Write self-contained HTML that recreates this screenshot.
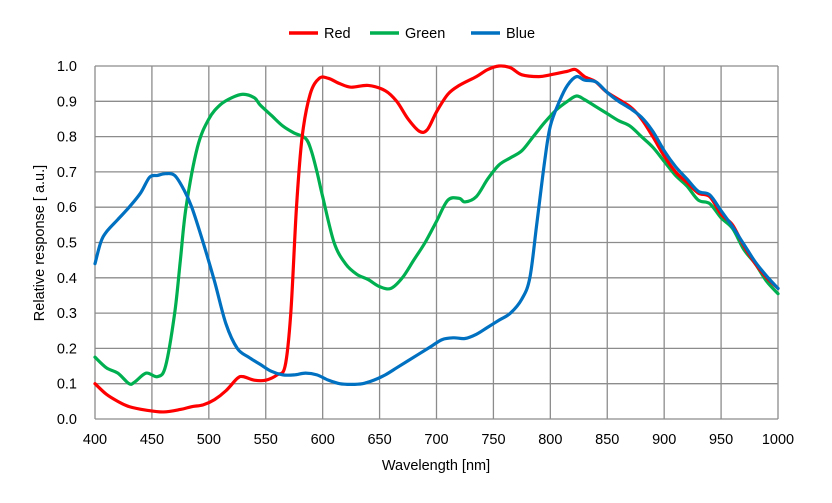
<!DOCTYPE html>
<html><head><meta charset="utf-8"><style>
html,body{margin:0;padding:0;background:#fff}
svg{display:block;font-family:"Liberation Sans",Arial,sans-serif}
</style></head><body>
<svg id="s" width="832" height="503" viewBox="0 0 832 503">
<rect width="832" height="503" fill="#fff"/>
<g id="grid" stroke="#8c8c8c" stroke-width="1.3"></g>
<g id="labels" font-size="14.5" fill="#000"></g>
<g id="curves" fill="none" stroke-width="3.2" stroke-linejoin="round" stroke-linecap="round"></g>
<g font-size="14.5">
<line x1="289" y1="33" x2="318" y2="33" stroke="#ff0000" stroke-width="3.5"/><text x="324" y="38">Red</text>
<line x1="370" y1="33" x2="399" y2="33" stroke="#00b050" stroke-width="3.5"/><text x="405" y="38">Green</text>
<line x1="471" y1="33" x2="500" y2="33" stroke="#0070c0" stroke-width="3.5"/><text x="506" y="38">Blue</text>
</g>
<text x="436" y="470" font-size="14.5" text-anchor="middle">Wavelength [nm]</text>
<text transform="translate(44,243) rotate(-90)" font-size="14.5" text-anchor="middle">Relative response [ a.u.]</text>
</svg>
<script>
var X=function(n){return 95+(n-400)*683/600},Y=function(v){return 419-v*353};
var g=document.getElementById('grid'),l=document.getElementById('labels'),c=document.getElementById('curves');
var NS='http://www.w3.org/2000/svg',h='';
for(var n=400;n<=1000;n+=50){h+='<line x1="'+X(n)+'" y1="66" x2="'+X(n)+'" y2="419"/>';}
for(var i=0;i<=10;i++){h+='<line x1="95" y1="'+Y(i/10)+'" x2="'+X(1000)+'" y2="'+Y(i/10)+'"/>';}
g.innerHTML=h;h='';
for(var n=400;n<=1000;n+=50)h+='<text x="'+X(n)+'" y="444" text-anchor="middle">'+n+'</text>';
for(var i=0;i<=10;i++)h+='<text x="77" y="'+(Y(i/10)+5)+'" text-anchor="end">'+(i/10).toFixed(1)+'</text>';
l.innerHTML=h;
var R=[400,.10,410,.07,420,.05,430,.035,445,.025,460,.02,475,.027,485,.035,495,.04,505,.055,515,.08,525,.115,530,.12,540,.11,550,.11,560,.125,567,.15,572,.3,577,.6,582,.8,589,.92,597,.965,605,.965,615,.95,625,.94,640,.945,655,.93,665,.9,675,.85,685,.815,692,.82,700,.87,710,.92,720,.945,735,.97,745,.99,755,1.0,765,.995,775,.975,790,.97,800,.975,815,.985,822,.99,830,.97,840,.955,850,.925,870,.885,880,.85,890,.8,900,.745,910,.7,920,.67,930,.64,940,.63,950,.58,960,.55,970,.49,980,.44,990,.4,1000,.37];
var G=[400,.175,410,.145,420,.13,430,.1,435,.105,445,.13,455,.12,462,.15,470,.3,475,.45,480,.6,490,.77,500,.85,510,.89,520,.91,530,.92,540,.91,545,.89,555,.86,565,.83,575,.81,585,.795,590,.76,595,.7,600,.63,610,.5,620,.44,630,.41,640,.395,650,.375,660,.37,670,.4,680,.45,690,.5,700,.56,710,.62,720,.625,725,.615,735,.63,745,.68,755,.72,765,.74,775,.76,785,.8,795,.84,805,.875,815,.9,823,.915,830,.905,840,.885,850,.865,860,.845,870,.83,880,.8,890,.77,900,.73,910,.69,920,.66,930,.62,940,.61,950,.57,960,.54,970,.48,980,.44,990,.39,1000,.355];
var B=[400,.44,405,.5,410,.53,420,.565,430,.6,440,.64,448,.685,455,.69,462,.695,470,.69,478,.65,485,.6,495,.5,505,.39,515,.27,525,.2,535,.175,545,.155,555,.135,565,.125,575,.125,585,.13,595,.125,605,.11,615,.1,625,.098,635,.1,645,.11,655,.125,665,.145,675,.165,685,.185,695,.205,705,.225,715,.23,725,.228,735,.24,745,.26,755,.28,765,.3,775,.34,782,.4,788,.55,795,.73,800,.83,808,.9,815,.945,823,.97,830,.96,840,.955,850,.925,860,.9,870,.88,880,.855,890,.815,900,.76,910,.715,920,.68,930,.645,940,.635,950,.59,960,.545,970,.495,980,.445,990,.405,1000,.37];
function path(a){var p=[];for(var i=0;i<a.length;i+=2)p.push([X(a[i]),Y(a[i+1])]);
var d='M'+p[0][0]+','+p[0][1];
for(var i=0;i<p.length-1;i++){var p0=p[i-1]||p[i],p1=p[i],p2=p[i+1],p3=p[i+2]||p2,t=6;
d+=' C'+(p1[0]+(p2[0]-p0[0])/t)+','+(p1[1]+(p2[1]-p0[1])/t)+' '+(p2[0]-(p3[0]-p1[0])/t)+','+(p2[1]-(p3[1]-p1[1])/t)+' '+p2[0]+','+p2[1];}
return d;}
c.innerHTML='<path d="'+path(G)+'" stroke="#00b050"/><path d="'+path(R)+'" stroke="#ff0000"/><path d="'+path(B)+'" stroke="#0070c0"/>';
</script>
</body></html>
